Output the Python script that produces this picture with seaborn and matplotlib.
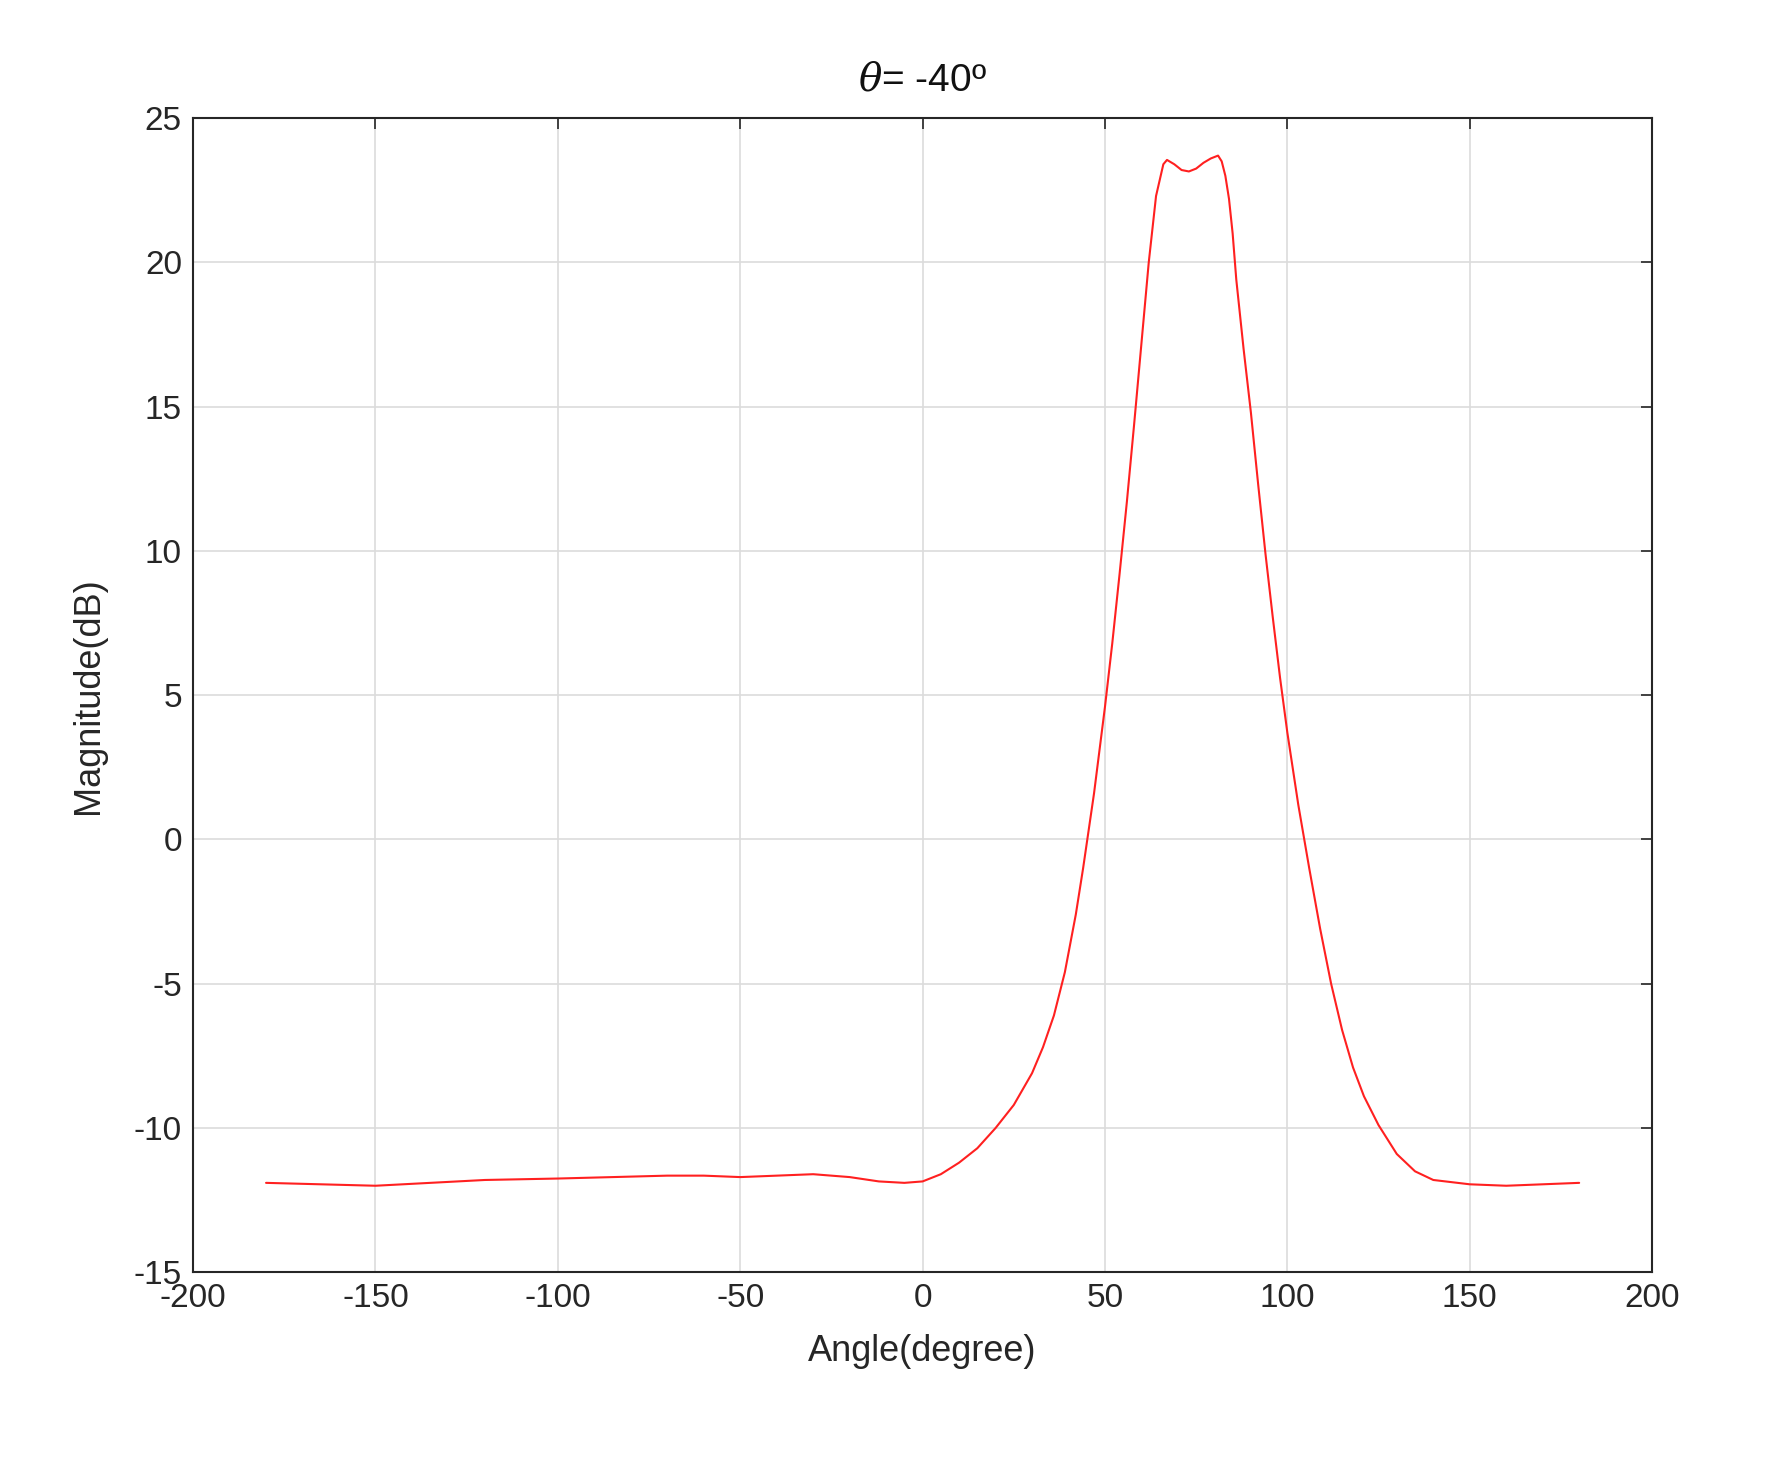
import numpy as np
import pandas as pd
import matplotlib
matplotlib.use("Agg")
import matplotlib.pyplot as plt
import seaborn as sns

angle = [-180, -165, -150, -135, -120, -100, -85, -70, -60, -50, -40, -30, -20, -12, -5, 0, 5,
         10, 15, 20, 25, 30, 33, 36, 39, 42, 44, 47, 50, 52, 54, 56, 58, 60, 62, 64, 66, 67, 69, 71, 73, 75,
         77, 79, 81, 82, 83, 84, 85, 86, 88, 90, 92, 94, 96, 98, 100, 103, 106, 109, 112, 115, 118, 121,
         125, 130, 135, 140, 150, 160, 170, 180]
magnitude = [-11.9, -11.95, -12.0, -11.9, -11.8, -11.75, -11.7, -11.65, -11.65, -11.7, -11.65, -11.6, -11.7, -11.85, -11.9, -11.85, -11.6,
             -11.2, -10.7, -10.0, -9.2, -8.1, -7.2, -6.1, -4.6, -2.6, -1.0, 1.6, 4.6, 6.8, 9.2, 11.7, 14.4, 17.2, 20.0, 22.3, 23.4, 23.55, 23.4, 23.2, 23.15, 23.25,
             23.45, 23.6, 23.7, 23.5, 23.0, 22.2, 21.0, 19.4, 17.0, 14.8, 12.3, 9.9, 7.7, 5.6, 3.7, 1.2, -1.0, -3.1, -5.0, -6.6, -7.9, -8.9,
             -9.9, -10.9, -11.5, -11.8, -11.95, -12.0, -11.95, -11.9]

df = pd.DataFrame({"angle": angle, "magnitude": magnitude})

sns.set_style("white")
plt.rcParams["font.family"] = ["Liberation Sans", "DejaVu Sans"]
plt.rcParams["mathtext.fontset"] = "dejavuserif"
plt.rcParams["axes.unicode_minus"] = False

fig = plt.figure(figsize=(17.88, 14.76), dpi=100)
ax = fig.add_axes([0.108, 0.138, 0.816, 0.782])
sns.lineplot(data=df, x="angle", y="magnitude", color="#ff2020", linewidth=1.5, ax=ax)

ax.set_xlim(-200, 200)
ax.set_ylim(-15, 25)
ax.set_xticks(range(-200, 201, 50))
ax.set_yticks(range(-15, 26, 5))
ax.grid(True, color="#dcdcdc", linewidth=1.2)
ax.tick_params(direction="in", length=8, width=1.2, labelsize=24, colors="#262626",
               top=True, right=True, pad=8)
for s in ax.spines.values():
    s.set_color("#262626")
    s.set_linewidth(1.5)
ax.set_xlabel("Angle(degree)", fontsize=26, color="#262626", labelpad=14)
ax.set_ylabel("Magnitude(dB)", fontsize=26, color="#262626", labelpad=20)
ax.set_title(r"$\theta$= -40º", fontsize=28, color="#111111", pad=20)

fig.savefig("out.png", dpi=100, facecolor="white")
